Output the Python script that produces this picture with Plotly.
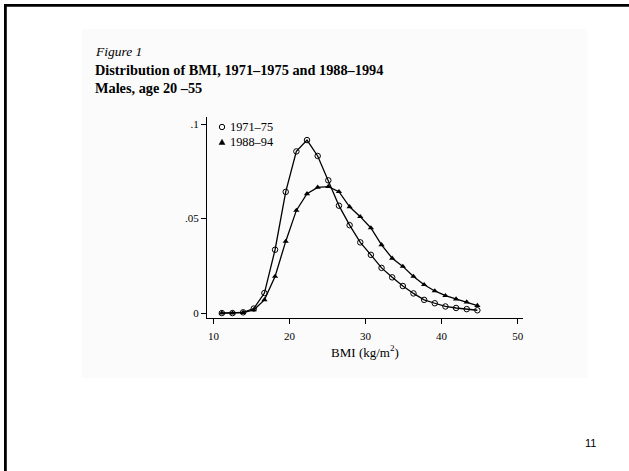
import plotly.graph_objects as go

# BMI grid (kg/m^2)
bmi = [11.1, 12.5, 13.9, 15.3, 16.7, 18.1, 19.5, 20.9, 22.3, 23.7, 25.1, 26.5, 27.9,
       29.3, 30.7, 32.1, 33.5, 34.9, 36.3, 37.7, 39.1, 40.5, 41.9, 43.3, 44.7]

# Density, 1971-75
dens_7175 = [0.0, 0.0, 0.0004, 0.0024, 0.0106, 0.0335, 0.0641, 0.0855, 0.0915, 0.0831,
             0.0702, 0.0568, 0.0465, 0.0374, 0.0308, 0.0239, 0.0189, 0.0143, 0.0104,
             0.0070, 0.0052, 0.0035, 0.0027, 0.0021, 0.0015]

# Density, 1988-94
dens_8894 = [0.0, 0.0, 0.0003, 0.0017, 0.0070, 0.0194, 0.0379, 0.0543, 0.0631, 0.0665,
             0.0669, 0.0642, 0.0562, 0.0510, 0.0450, 0.0361, 0.0290, 0.0247, 0.0194,
             0.0150, 0.0117, 0.0092, 0.0074, 0.0058, 0.0040]

series_names = ["1971\u201375", "1988\u201394"]
x_ticks = [10, 20, 30, 40, 50]
y_ticks = [0, 0.05, 0.1]
y_ticktext = ["0", ".05", ".1"]

W, H = 629, 471
SERIF = "Liberation Serif, Times New Roman, serif"

def px(x):
    return x / W

def py(y):
    return 1 - y / H

fig = go.Figure()
fig.add_trace(go.Scatter(
    x=bmi, y=dens_7175, mode="lines+markers", name=series_names[0], showlegend=False,
    line=dict(color="black", width=1.3),
    marker=dict(symbol="circle-open", size=5.5, color="black", line=dict(width=1, color="black")),
))
fig.add_trace(go.Scatter(
    x=bmi, y=dens_8894, mode="lines+markers", name=series_names[1], showlegend=False,
    line=dict(color="black", width=1.3),
    marker=dict(symbol="triangle-up", size=5.5, color="black"),
))

shapes = [
    # faint page-image background
    dict(type="rect", xref="paper", yref="paper", x0=px(82), x1=px(587), y0=py(378), y1=py(29),
         fillcolor="#fbfbfb", line=dict(width=0), layer="below"),
    # slide border (top and left)
    dict(type="rect", xref="paper", yref="paper", x0=px(4), x1=px(629), y0=py(6.8), y1=py(4),
         fillcolor="black", line=dict(width=0)),
    dict(type="rect", xref="paper", yref="paper", x0=px(4), x1=px(6.8), y0=py(471), y1=py(4),
         fillcolor="black", line=dict(width=0)),
    # legend symbols
    dict(type="circle", xref="paper", yref="paper", x0=px(219.3), x1=px(224.7), y0=py(129.7), y1=py(124.3),
         line=dict(color="black", width=1)),
    dict(type="path", xref="paper", yref="paper",
         path=f"M {px(219)} {py(144.5)} L {px(225)} {py(144.5)} L {px(222)} {py(139.3)} Z",
         fillcolor="black", line=dict(color="black", width=0.5)),
]

annotations = [
    dict(text="<i>Figure 1</i>", x=px(93), y=py(52), xref="paper", yref="paper",
         xanchor="left", yanchor="middle", showarrow=False, font=dict(family=SERIF, size=13.5, color="black")),
    dict(text="<b>Distribution of BMI, 1971\u20131975 and 1988\u20131994</b>", x=px(93), y=py(70),
         xref="paper", yref="paper", xanchor="left", yanchor="middle", showarrow=False,
         font=dict(family=SERIF, size=14.3, color="black")),
    dict(text="<b>Males, age 20 \u201355</b>", x=px(93), y=py(88), xref="paper", yref="paper",
         xanchor="left", yanchor="middle", showarrow=False, font=dict(family=SERIF, size=14.3, color="black")),
    dict(text=series_names[0], x=px(228), y=py(127), xref="paper", yref="paper",
         xanchor="left", yanchor="middle", showarrow=False, font=dict(family=SERIF, size=12.3, color="black")),
    dict(text=series_names[1], x=px(228), y=py(142), xref="paper", yref="paper",
         xanchor="left", yanchor="middle", showarrow=False, font=dict(family=SERIF, size=12.3, color="black")),
    dict(text="11", x=px(590), y=py(443), xref="paper", yref="paper",
         xanchor="center", yanchor="middle", showarrow=False,
         font=dict(family="Liberation Sans, Arial, sans-serif", size=11, color="black")),
]

fig.update_layout(
    width=W, height=H,
    margin=dict(l=0, r=0, t=0, b=0),
    paper_bgcolor="white", plot_bgcolor="rgba(0,0,0,0)",
    showlegend=False,
    shapes=shapes, annotations=annotations,
    xaxis=dict(
        domain=[px(207), px(523)], range=[9.15, 50.7],
        showgrid=False, zeroline=False, showline=True, linecolor="black", linewidth=1,
        ticks="outside", ticklen=5, tickcolor="black", tickwidth=1,
        tickvals=x_ticks, ticktext=[str(v) for v in x_ticks], ticklabelstandoff=3,
        tickfont=dict(family=SERIF, size=11, color="black"),
        title=dict(text="BMI (kg/m<sup>2</sup>)", font=dict(family=SERIF, size=13, color="black"), standoff=6),
    ),
    yaxis=dict(
        domain=[py(318), py(117)], range=[-0.0026, 0.1037],
        showgrid=False, zeroline=False, showline=True, linecolor="black", linewidth=1,
        ticks="outside", ticklen=5, tickcolor="black", tickwidth=1,
        tickvals=y_ticks, ticktext=y_ticktext,
        tickfont=dict(family=SERIF, size=11, color="black"),
    ),
)

fig.write_html("out.html", config={"displayModeBar": False},
               post_script="document.body.style.margin='0';document.body.style.overflow='hidden';")
